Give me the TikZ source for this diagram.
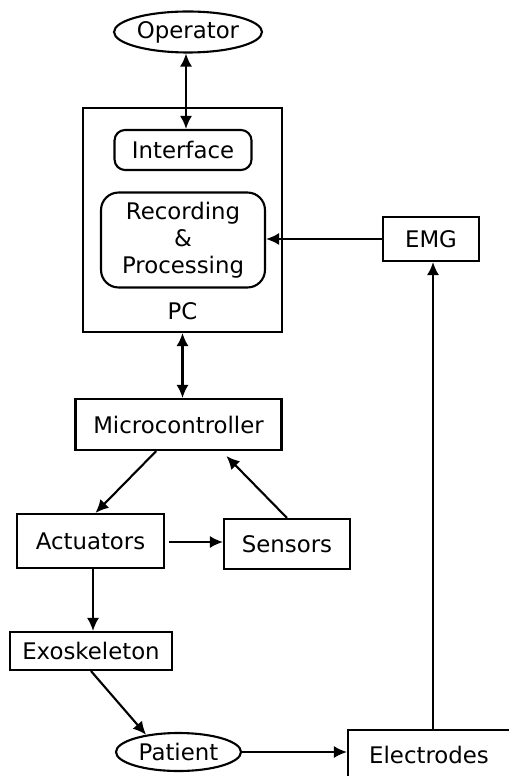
\documentclass[tikz,border=0pt]{standalone}
\usepackage{fontspec}
\setmainfont{DejaVu Sans}
\usetikzlibrary{arrows.meta,shapes.geometric,positioning}

\begin{document}
\begin{tikzpicture}[x=0.02cm,y=-0.02cm,
    font=\fontsize{13}{15.3}\selectfont, line width=1.2pt,
    block/.style={draw, inner sep=0pt, align=center},
    soft/.style={block, rounded corners=6pt},
    oval/.style={draw, ellipse, inner sep=0pt},
    link/.style={-{Latex[length=7.5pt,width=7pt]}},
    both/.style={{Latex[length=7.5pt,width=7pt]}-{Latex[length=7.5pt,width=7pt]}}]
  \useasboundingbox (0,0) rectangle (508,776);
  \node (operator) [oval, minimum width=2.96cm, minimum height=0.82cm] at (188,32) {Operator};
  \node (pc) [block, minimum width=3.98cm, minimum height=4.48cm] at (182.5,220) {};
  \node (pclabel) [above=0.12cm of pc.south] {PC};
  \node (iface) [soft, minimum width=2.74cm, minimum height=0.8cm] at (183,150) {Interface};
  \node (rec) [soft, rounded corners=10pt, minimum width=3.28cm, minimum height=1.9cm] at (183,240) {Recording\\\&\\Processing};
  \node (emg) [block, minimum width=1.92cm, minimum height=0.88cm] at (431,239) {EMG};
  \node (mc) [block, minimum width=4.12cm, minimum height=1.02cm] at (178.5,424.5) {Microcontroller};
  \node (act) [block, minimum width=2.94cm, minimum height=1.08cm] at (90.5,541) {Actuators};
  \node (sens) [block, minimum width=2.52cm, minimum height=1.0cm] at (287,544) {Sensors};
  \node (exo) [block, minimum width=3.24cm, minimum height=0.76cm] at (91,651) {Exoskeleton};
  \node (patient) [oval, minimum width=2.5cm, minimum height=0.76cm] at (178.5,752) {Patient};
  \node (elec) [block, minimum width=3.24cm, minimum height=1.0cm] at (429,755) {Electrodes};

  \draw [both] (operator.south -| 186,0) -- (iface.north -| 186,0);
  \draw [link] (emg.west) -- (emg.west -| rec.east);
  \draw [both] (pc.south) -- (pc.south |- mc.north);
  \draw [link] (mc.230) -- (act.80);
  \draw [link] (sens.north) -- ([yshift=-0.1cm]mc.331);
  \draw [link, shorten <=0.08cm] (act.east |- 0,542) -- (sens.west |- 0,542);
  \draw [link] (act.south -| 93,0) -- (exo.north -| 93,0);
  \draw [link] (exo.south) -- (patient.152);
  \draw [link] (patient.east) -- (patient.east -| elec.west);
  \draw [link] (elec.north -| 433,0) -- (emg.south -| 433,0);
\end{tikzpicture}
\end{document}
